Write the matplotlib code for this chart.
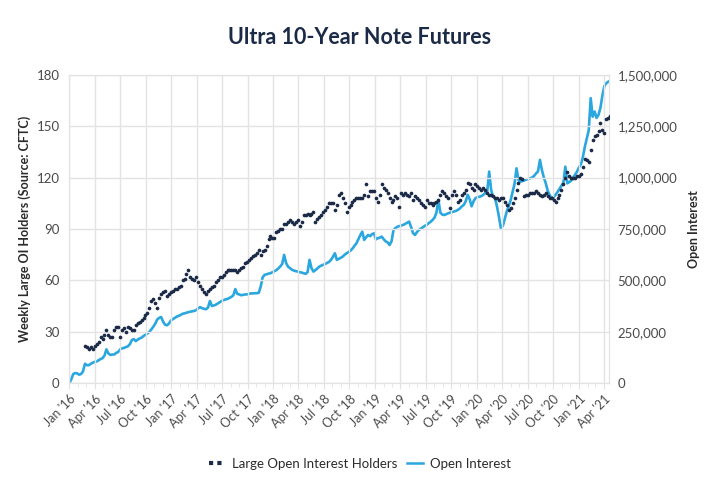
import pandas as pd
import matplotlib.pyplot as plt
import matplotlib.dates as mdates
from matplotlib.lines import Line2D
from matplotlib.ticker import FuncFormatter, MultipleLocator

# weekly large OI holders (count), first reading late Feb 2016
holders = [
    22, 21, 20, 21, 20, 22, 23, 24, 27, 26, 28, 31, 28, 27, 27, 31, 33, 33, 27, 31,
    32, 30, 33, 32, 31, 31, 34, 35, 36, 37, 38, 40, 41, 44, 48, 49, 47, 44, 50, 52,
    53, 54, 51, 52, 53, 54, 55, 55, 56, 57, 60, 61, 64, 66, 62, 61, 60, 62, 59, 57,
    55, 53, 52, 54, 55, 56, 57, 59, 60, 62, 62, 63, 65, 66, 66, 66, 66, 66, 65, 66,
    67, 68, 70, 71, 72, 73, 74, 75, 76, 78, 75, 77, 78, 80, 84, 86, 85, 85, 88, 89,
    90, 90, 93, 93, 94, 95, 94, 93, 94, 95, 92, 94, 98, 98, 99, 98, 99, 100, 94, 96,
    97, 98, 100, 101, 103, 105, 105, 105, 101, 104, 110, 111, 108, 105, 100, 103, 104, 106, 107, 108,
    108, 108, 108, 110, 116, 109, 112, 112, 112, 108, 106, 110, 116, 114, 113, 111, 108, 106, 107, 109,
    108, 103, 111, 110, 111, 110, 109, 111, 107, 109, 108, 107, 105, 104, 103, 107, 105, 105, 104, 105,
    106, 107, 110, 112, 111, 109, 108, 102, 110, 112, 110, 106, 107, 110, 111, 113, 117, 116, 114, 113,
    116, 115, 114, 113, 114, 113, 111, 110, 110, 109, 108, 108, 107, 108, 108, 106, 104, 101, 102, 105,
    108, 113, 117, 120, 119, 109, 110, 110, 111, 111, 111, 112, 111, 110, 109, 110, 111, 109, 108, 108,
    107, 106, 108, 110, 113, 116, 120, 123, 121, 120, 120, 120, 121, 121, 122, 126, 131, 130, 129, 136,
    142, 144, 145, 147, 152, 148, 146, 154, 155, 156, 153,
]

# weekly open interest (thousands of contracts), from Jan 2016
open_interest = [
    0, 20, 45, 50, 48, 42, 45, 58, 95, 88, 88, 95, 100, 104, 106, 112, 118, 122, 135, 165,
    145, 138, 140, 140, 148, 152, 165, 170, 172, 176, 180, 190, 210, 215, 205, 212, 218, 222, 230, 236,
    242, 250, 262, 275, 290, 310, 318, 322, 300, 285, 282, 290, 305, 312, 318, 324, 328, 332, 338, 340,
    343, 346, 348, 350, 352, 356, 365, 370, 365, 362, 360, 368, 400, 376, 378, 382, 388, 394, 400, 404,
    408, 410, 415, 420, 428, 458, 435, 432, 428, 430, 432, 432, 435, 437, 437, 438, 438, 440, 470, 515,
    527, 530, 533, 535, 540, 545, 550, 558, 568, 580, 624, 585, 567, 560, 552, 548, 545, 543, 540, 538,
    535, 532, 540, 600, 560, 543, 550, 558, 567, 572, 576, 580, 585, 590, 600, 615, 632, 600, 605, 610,
    616, 625, 632, 638, 645, 655, 668, 680, 700, 720, 737, 697, 710, 721, 715, 725, 729, 700, 705, 708,
    713, 700, 690, 685, 672, 690, 745, 755, 761, 764, 767, 770, 775, 780, 786, 760, 730, 721, 735, 745,
    752, 758, 765, 770, 778, 785, 794, 805, 830, 891, 830, 820, 818, 822, 826, 830, 832, 835, 838, 843,
    850, 860, 867, 885, 916, 895, 860, 885, 900, 905, 907, 910, 916, 925, 932, 1029, 940, 907, 900, 860,
    810, 754, 765, 800, 835, 860, 890, 930, 970, 1045, 988, 980, 983, 986, 990, 993, 997, 1000, 1008, 1020,
    1030, 1086, 1037, 1000, 972, 935, 915, 900, 905, 916, 930, 945, 960, 975, 1053, 972, 978, 985, 1000, 1015,
    1029, 1050, 1065, 1100, 1150, 1190, 1230, 1386, 1296, 1321, 1290, 1305, 1340, 1400, 1445, 1459, 1466,
]

holders_dates = pd.date_range("2016-02-26", periods=len(holders), freq="7D")
oi_dates = pd.date_range("2016-01-01", periods=len(open_interest), freq="7D")
oi_values = [v * 1000 for v in open_interest]

navy = "#1b2a47"
blue = "#2aa7df"
grid_c = "#e3e3e3"
txt_c = "#4a4a4a"

plt.rcParams.update({"font.family": ["Lato", "DejaVu Sans"], "font.size": 9})

fig = plt.figure(figsize=(7.2, 5.0), dpi=100)
ax = fig.add_axes([0.0963, 0.2334, 0.7497, 0.6172])
ax2 = ax.twinx()

ax2.plot(oi_dates, oi_values, color=blue, lw=1.9, solid_joinstyle="round")
ax.scatter(holders_dates, holders, s=7, color=navy, zorder=3, linewidths=0)

ax.set_zorder(ax2.get_zorder() + 1)
ax.patch.set_visible(False)

ax.set_xlim(pd.Timestamp("2016-01-01"), pd.Timestamp("2021-04-19"))
ax.set_ylim(0, 180)
ax2.set_ylim(0, 1500000)
ax.yaxis.set_major_locator(MultipleLocator(30))
ax2.yaxis.set_major_locator(MultipleLocator(250000))
ax2.yaxis.set_major_formatter(FuncFormatter(lambda v, p: f"{int(v):,}"))

ax.xaxis.set_major_locator(mdates.MonthLocator(bymonth=[1, 4, 7, 10]))
ax.xaxis.set_minor_locator(mdates.MonthLocator())
ax.xaxis.set_major_formatter(mdates.DateFormatter("%b '%y"))
for lbl in ax.get_xticklabels():
    lbl.set_rotation(45)
    lbl.set_ha("right")
    lbl.set_rotation_mode("anchor")

ax.grid(True, which="major", color=grid_c, lw=1)
ax.set_axisbelow(True)
for a in (ax, ax2):
    for s in a.spines.values():
        s.set_color(grid_c)
ax.tick_params(axis="y", length=0, pad=7, colors=txt_c, labelsize=9.5)
ax2.tick_params(axis="y", length=0, pad=6, colors=txt_c, labelsize=9.5)
ax.tick_params(axis="x", which="major", length=4, color=grid_c, colors=txt_c, labelsize=9, pad=3)
ax.tick_params(axis="x", which="minor", length=3, color=grid_c)
ax.tick_params(axis="x", which="both", color=grid_c)

ax.set_ylabel("Weekly Large OI Holders (Source: CFTC)", color="#2b2b2b", fontsize=9,
              fontweight="bold", labelpad=4)
ax2.set_ylabel("Open Interest", color="#2b2b2b", fontsize=9, fontweight="bold",
               labelpad=8, rotation=90)

fig.suptitle("Ultra 10-Year Note Futures", x=0.5, y=0.945, fontsize=15.5,
             fontweight="bold", color=navy)

handles = [
    Line2D([], [], color=navy, lw=3, linestyle=(0, (1, 1))),
    Line2D([], [], color=blue, lw=1.8),
]
fig.legend(handles, ["Large Open Interest Holders", "Open Interest"], loc="center",
           bbox_to_anchor=(0.5, 0.073), ncol=2, frameon=False, handlelength=1.2,
           handletextpad=0.5, columnspacing=0.8, fontsize=9.5, labelcolor="#2b2b2b")

fig.savefig("out.png", dpi=100)
